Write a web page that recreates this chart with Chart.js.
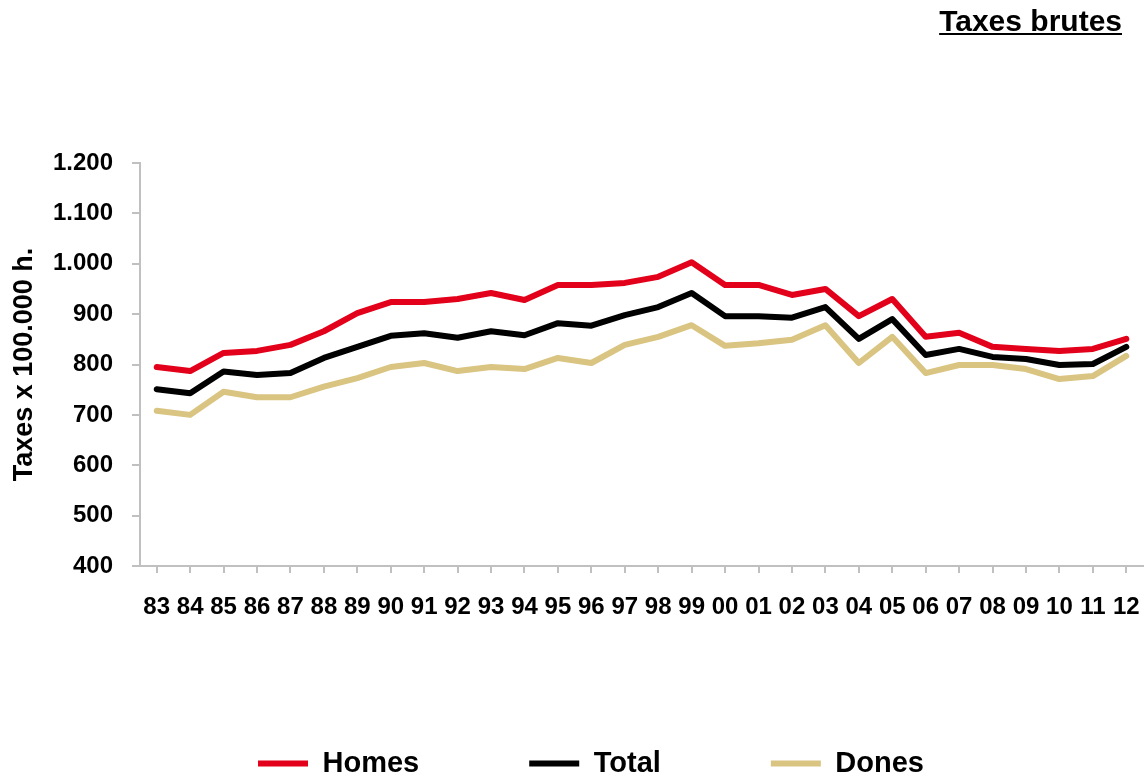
<!DOCTYPE html>
<html>
<head>
<meta charset="utf-8">
<script src="https://cdn.jsdelivr.net/npm/chart.js@4"></script>
<style>
  html, body { margin: 0; padding: 0; background: #fff; }
  #wrap { width: 1148px; height: 780px; }
</style>
</head>
<body>
<div id="wrap"><canvas id="taxesChart"></canvas></div>
<script>
// Taxes brutes x 100.000 h.
var years = ["83", "84", "85", "86", "87", "88", "89", "90", "91", "92",
             "93", "94", "95", "96", "97", "98", "99", "00", "01", "02",
             "03", "04", "05", "06", "07", "08", "09", "10", "11", "12"];
var homes = [795, 787, 823, 827, 839, 866, 902, 924, 924, 930,
             942, 928, 958, 958, 962, 974, 1003, 958, 958, 938,
             950, 896, 930, 855, 863, 835, 831, 827, 831, 851];
var total = [751, 743, 786, 779, 783, 813, 835, 857, 862, 853,
             866, 858, 882, 877, 898, 914, 942, 896, 896, 893,
             914, 851, 890, 819, 831, 815, 811, 799, 801, 835];
var dones = [708, 700, 746, 735, 735, 756, 773, 795, 803, 787,
             795, 791, 813, 803, 839, 855, 878, 837, 842, 849,
             878, 803, 855, 783, 799, 799, 791, 771, 777, 817];
var yTicks = [400, 500, 600, 700, 800, 900, 1000, 1100, 1200];

var FONT = "'Liberation Sans', Arial, sans-serif";
var axisGrey = "#c0c0c0";

// title top right, underlined; legend nudged to match the original
var extrasPlugin = {
  id: "extras",
  afterLayout: function(chart) {
    var lg = chart.legend;
    lg.left += 31;
    lg.top += 8;
    lg.bottom += 8;
  },
  afterDraw: function(chart) {
    var ctx = chart.ctx;
    var text = "Taxes brutes";
    ctx.save();
    ctx.font = "bold 30px " + FONT;
    ctx.fillStyle = "#000";
    ctx.textAlign = "right";
    ctx.textBaseline = "alphabetic";
    ctx.fillText(text, 1122, 31);
    var w = ctx.measureText(text).width;
    ctx.fillRect(1122 - w, 33, w, 2);
    ctx.restore();
  }
};

new Chart("taxesChart", {
  type: "line",
  data: {
    labels: years,
    datasets: [
      { label: "Homes", data: homes, borderColor: "#e2001a", backgroundColor: "#e2001a" },
      { label: "Total", data: total, borderColor: "#000000", backgroundColor: "#000000" },
      { label: "Dones", data: dones, borderColor: "#d9c481", backgroundColor: "#d9c481" }
    ]
  },
  options: {
    responsive: true,
    maintainAspectRatio: false,
    animation: false,
    layout: { padding: { top: 163, right: 5, left: 8, bottom: 0 } },
    elements: {
      line: { borderWidth: 6, tension: 0, borderJoinStyle: "round", borderCapStyle: "round" },
      point: { radius: 0, hoverRadius: 0 }
    },
    scales: {
      x: {
        offset: true,
        afterFit: function(axis) {
          axis.paddingLeft = 0;
          axis.paddingRight = 0;
          axis.height = 65;
        },
        grid: { offset: false, drawOnChartArea: false, tickLength: 7, color: axisGrey, lineWidth: 2 },
        border: { color: axisGrey, width: 2 },
        ticks: {
          autoSkip: false, maxRotation: 0, minRotation: 0, padding: 20,
          color: "#000", font: { family: FONT, size: 24, weight: "bold" }
        }
      },
      y: {
        min: 400,
        max: 1200,
        afterBuildTicks: function(axis) {
          axis.ticks = yTicks.map(function(v) { return { value: v }; });
        },
        afterFit: function(axis) {
          axis.width = 132;
        },
        grid: { drawOnChartArea: false, tickLength: 8, color: axisGrey, lineWidth: 2 },
        border: { color: axisGrey, width: 2 },
        ticks: {
          padding: 19,
          color: "#000",
          font: { family: FONT, size: 24, weight: "bold" },
          callback: function(v) {
            return String(v).replace(/\B(?=(\d{3})+(?!\d))/g, ".");
          }
        },
        title: {
          display: true,
          text: "Taxes x 100.000 h.",
          color: "#000",
          font: { family: FONT, size: 27, weight: "bold" },
          padding: { top: 0, bottom: 0 }
        }
      }
    },
    plugins: {
      title: { display: false },
      tooltip: { enabled: false },
      legend: {
        position: "bottom",
        labels: {
          boxWidth: 50,
          boxHeight: 6,
          padding: 110,
          color: "#000",
          font: { family: FONT, size: 29, weight: "bold" },
          generateLabels: function(chart) {
            return Chart.defaults.plugins.legend.labels.generateLabels(chart).map(function(l) {
              l.lineWidth = 0;
              return l;
            });
          }
        }
      }
    }
  },
  plugins: [extrasPlugin]
});
</script>
</body>
</html>
